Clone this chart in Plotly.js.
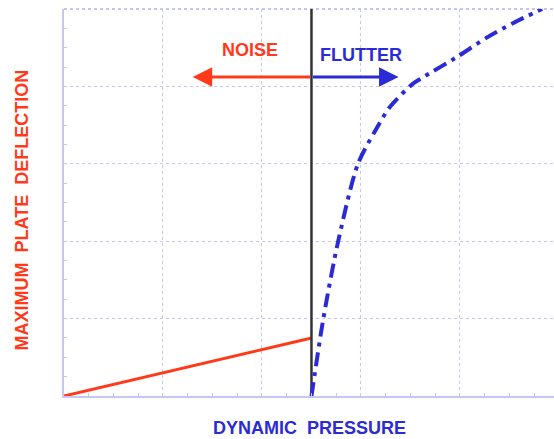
<!DOCTYPE html>
<html>
<head>
<meta charset="utf-8">
<script src="https://cdn.plot.ly/plotly-3.0.1.min.js"></script>
<style>html,body{margin:0;padding:0;background:#fff;}#chart{width:554px;height:439px;}</style>
</head>
<body>
<div id="chart"></div>
<script>
// Noise region (linear)
const noiseX = [0, 2.5];
const noiseY = [0, 0.75];
// Flutter boundary (vertical line)
const boundaryX = [2.5, 2.5];
const boundaryY = [0, 5];
// Flutter curve
const flutterX = [2.5, 2.62, 2.77, 2.97, 3.15, 3.29, 3.52, 3.63, 3.97, 4.27, 4.54, 4.83];
const flutterY = [0, 1.0, 2.0, 3.0, 3.44, 3.73, 4.03, 4.12, 4.38, 4.63, 4.82, 5.0];
// Arrow annotations
const arrowY = 4.12;
const noiseArrowTip = 1.3;
const flutterArrowTip = 3.38;

const RED = '#ff3a1a';
const BLUE = '#2b2bd6';
const GRID = '#c6c6f2';
const FONT = 'Liberation Sans, Arial, sans-serif';

const traces = [
  {x: noiseX, y: noiseY, mode: 'lines', line: {color: RED, width: 3}, hoverinfo: 'skip'},
  {x: boundaryX, y: boundaryY, mode: 'lines', line: {color: '#333333', width: 2.5}, hoverinfo: 'skip'},
  {x: flutterX, y: flutterY, mode: 'lines', line: {color: BLUE, width: 4, dash: '14px,6px,4px,6px', shape: 'spline', smoothing: 0.8}, hoverinfo: 'skip'}
];

const axisCommon = {
  showgrid: true, gridcolor: GRID, griddash: 'dot', gridwidth: 1,
  showline: true, linecolor: GRID, linewidth: 2,
  zeroline: false, showticklabels: false,
  dtick: 1, tick0: 0,
  ticks: 'inside', ticklen: 3, tickcolor: GRID,
  minor: {dtick: 0.25, ticks: 'inside', ticklen: 3, tickcolor: GRID, showgrid: false}
};

const layout = {
  width: 554, height: 439,
  margin: {l: 64, r: 0, t: 9, b: 43},
  paper_bgcolor: '#ffffff', plot_bgcolor: '#ffffff',
  showlegend: false,
  xaxis: Object.assign({}, axisCommon, {range: [0, 4.95]}),
  yaxis: Object.assign({}, axisCommon, {range: [0, 5]}),
  shapes: [
    {type: 'line', xref: 'paper', yref: 'paper', x0: 0, x1: 1, y0: 1, y1: 1,
     line: {color: GRID, width: 2, dash: 'dot'}, layer: 'below'}
  ],
  annotations: [
    {x: noiseArrowTip, y: arrowY, ax: 2.5, ay: arrowY, xref: 'x', yref: 'y', axref: 'x', ayref: 'y',
     text: '', showarrow: true, arrowhead: 2, arrowsize: 1.3, arrowwidth: 3, arrowcolor: RED},
    {x: flutterArrowTip, y: arrowY, ax: 2.5, ay: arrowY, xref: 'x', yref: 'y', axref: 'x', ayref: 'y',
     text: '', showarrow: true, arrowhead: 2, arrowsize: 1.3, arrowwidth: 3, arrowcolor: BLUE},
    {x: 1.88, y: 4.47, xref: 'x', yref: 'y', text: '<b>NOISE</b>', showarrow: false,
     xanchor: 'center', yanchor: 'middle', font: {family: FONT, size: 18, color: RED}},
    {x: 3.0, y: 4.41, xref: 'x', yref: 'y', text: '<b>FLUTTER</b>', showarrow: false,
     xanchor: 'center', yanchor: 'middle', font: {family: FONT, size: 18, color: BLUE}},
    {x: 0.5, y: 0, xref: 'paper', yref: 'paper', yshift: -32, xanchor: 'center', yanchor: 'middle',
     text: '<b>DYNAMIC  PRESSURE</b>', showarrow: false, font: {family: FONT, size: 18, color: BLUE}},
    {x: 0, y: 0.5, xref: 'paper', yref: 'paper', xshift: -43, yshift: -8, xanchor: 'center', yanchor: 'middle',
     text: '<b>MAXIMUM  PLATE  DEFLECTION</b>', showarrow: false, textangle: -90,
     font: {family: FONT, size: 18, color: RED}}
  ]
};

Plotly.newPlot('chart', traces, layout, {staticPlot: true, displayModeBar: false});
</script>
</body>
</html>
